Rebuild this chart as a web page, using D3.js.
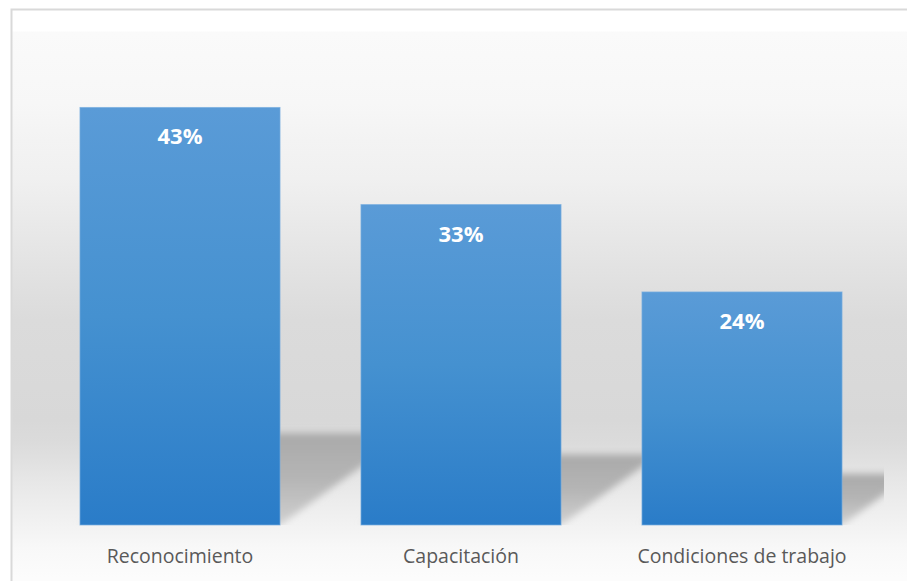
<!DOCTYPE html>
<html>
<head>
<meta charset="utf-8">
<script src="https://cdn.jsdelivr.net/npm/d3@7"></script>
<style>
  html, body { margin: 0; padding: 0; background: #ffffff; }
  svg { display: block; }
</style>
</head>
<body>
<svg id="chart" width="907" height="581"></svg>
<script>
// Survey results by category (percent)
const categories = ["Reconocimiento", "Capacitación", "Condiciones de trabajo"];
const values = [43, 33, 24];
const valueLabels = values.map(v => v + "%");
const yDomain = [0, 50];

const W = 907, H = 581;
const plot = { left: 39.5, right: 882.5, top: 39.5, bottom: 525 };

const svg = d3.select("#chart");
const defs = svg.append("defs");

// Chart background: soft vertical gray gradient
const bg = defs.append("linearGradient").attr("id", "bgGrad")
  .attr("gradientUnits", "userSpaceOnUse")
  .attr("x1", 0).attr("y1", 9).attr("x2", 0).attr("y2", H);
[
  [9, "#ffffff"], [31, "#ffffff"], [32, "#fafafa"], [103, "#f7f7f7"],
  [140, "#f3f3f3"], [178, "#f0f0f0"], [205, "#ececec"], [232, "#e8e8e8"],
  [258, "#e4e4e4"], [285, "#e0e0e0"], [320, "#dbdbdb"], [420, "#d8d8d8"],
  [442, "#dbdbdb"], [460, "#e0e0e0"], [478, "#e6e6e6"], [500, "#ececec"],
  [525, "#f2f2f2"], [548, "#f8f8f8"], [578, "#fcfcfc"]
].forEach(([y, c]) => bg.append("stop")
  .attr("offset", ((y - 9) / (H - 9)).toFixed(4)).attr("stop-color", c));

// Bar fill gradient
const barGrad = defs.append("linearGradient").attr("id", "barGrad")
  .attr("x1", 0).attr("y1", 0).attr("x2", 0).attr("y2", 1);
barGrad.append("stop").attr("offset", 0).attr("stop-color", "#5a9bd7");
barGrad.append("stop").attr("offset", 0.5).attr("stop-color", "#4591d0");
barGrad.append("stop").attr("offset", 1).attr("stop-color", "#2a7cc8");

// Shadow gradient and blur
const shGrad = defs.append("linearGradient").attr("id", "shGrad")
  .attr("x1", 0).attr("y1", 0).attr("x2", 0).attr("y2", 1);
shGrad.append("stop").attr("offset", 0).attr("stop-color", "#a9a9a9");
shGrad.append("stop").attr("offset", 0.5).attr("stop-color", "#b5b5b5");
shGrad.append("stop").attr("offset", 1).attr("stop-color", "#d0d0d0");
defs.append("filter").attr("id", "shBlur")
  .attr("x", "-20%").attr("y", "-30%").attr("width", "140%").attr("height", "160%")
  .append("feGaussianBlur").attr("stdDeviation", 3.5);

defs.append("clipPath").attr("id", "plotClip")
  .append("rect").attr("x", 12).attr("y", 10).attr("width", 872).attr("height", plot.bottom - 10);

// Background and frame
svg.append("rect").attr("x", 12).attr("y", 10).attr("width", W).attr("height", H)
  .attr("fill", "url(#bgGrad)");
svg.append("rect").attr("x", 11.5).attr("y", 9.5).attr("width", W + 10).attr("height", H + 10)
  .attr("fill", "none").attr("stroke", "#d9d9d9").attr("stroke-width", 2);

// Scales
const x = d3.scaleBand()
  .domain(categories)
  .range([plot.left, plot.right])
  .paddingInner(0.288)
  .paddingOuter(0.144);
const y = d3.scaleLinear().domain(yDomain).range([plot.bottom, plot.top]);

const data = categories.map((c, i) => ({ cat: c, value: values[i], label: valueLabels[i] }));

// Perspective shadows cast to the upper right of each bar
const shadowRatio = 0.22, shadowSlope = 0.72;
svg.append("g").attr("clip-path", "url(#plotClip)")
  .selectAll("path").data(data).join("path")
  .attr("d", d => {
    const x0 = x(d.cat), x1 = x0 + x.bandwidth();
    const b = y(0);
    const sh = (b - y(d.value)) * shadowRatio;
    const dx = sh / shadowSlope;
    return `M${x0},${b}L${x1},${b}L${x1 + dx},${b - sh}L${x0 + dx},${b - sh}Z`;
  })
  .attr("fill", "url(#shGrad)")
  .attr("filter", "url(#shBlur)");

// Bars
svg.append("g").selectAll("rect").data(data).join("rect")
  .attr("x", d => x(d.cat))
  .attr("y", d => y(d.value))
  .attr("width", x.bandwidth())
  .attr("height", d => y(0) - y(d.value))
  .attr("fill", "url(#barGrad)")
  .attr("stroke", "#78aee0")
  .attr("stroke-width", 1)
  .attr("stroke-opacity", 0.7);

// Value labels inside bars
svg.append("g").selectAll("text").data(data).join("text")
  .attr("x", d => x(d.cat) + x.bandwidth() / 2)
  .attr("y", d => y(d.value) + 37)
  .attr("text-anchor", "middle")
  .attr("fill", "#ffffff")
  .attr("font-family", "'Open Sans', sans-serif")
  .attr("font-weight", 700)
  .attr("font-size", 22)
  .text(d => d.label);

// Category axis
const xAxis = svg.append("g")
  .attr("transform", `translate(0,${plot.bottom})`)
  .call(d3.axisBottom(x).tickSize(0).tickPadding(24));
xAxis.select(".domain").remove();
xAxis.selectAll("text")
  .attr("fill", "#595959")
  .attr("font-family", "'Open Sans', sans-serif")
  .attr("font-size", 19.5);
</script>
</body>
</html>
